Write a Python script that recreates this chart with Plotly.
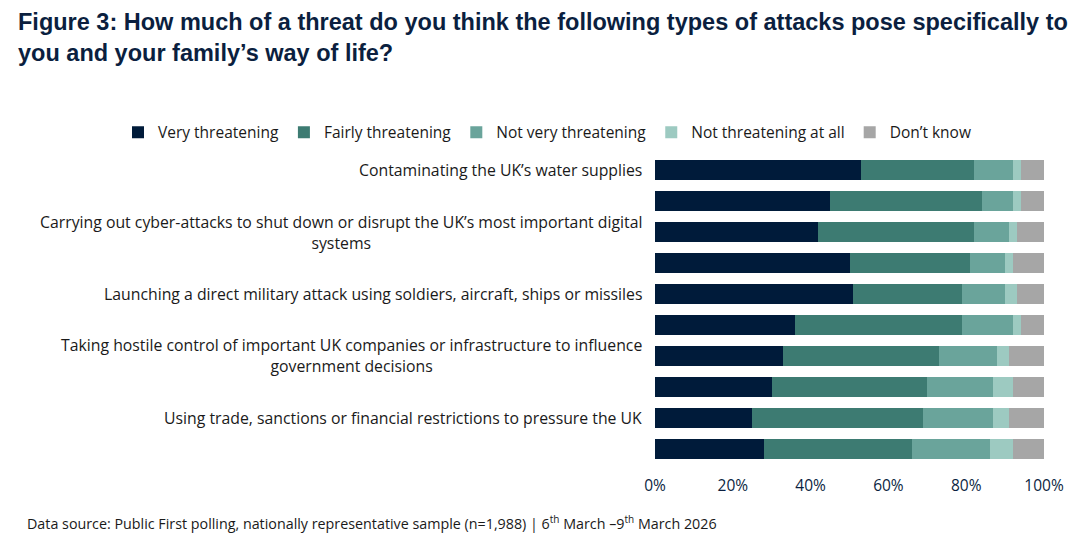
import plotly.graph_objects as go

labels = [
    "Contaminating the UK\u2019s water supplies",
    "",
    "Carrying out cyber-attacks to shut down or disrupt the UK\u2019s most important digital<br>systems",
    "",
    "Launching a direct military attack using soldiers, aircraft, ships or missiles",
    "",
    "Taking hostile control of important UK companies or infrastructure to influence<br>government decisions",
    "",
    "Using trade, sanctions or financial restrictions to pressure the UK",
    "",
]
positions = list(range(len(labels)))

series_names = ["Very threatening", "Fairly threatening", "Not very threatening",
                "Not threatening at all", "Don\u2019t know"]
very = [53, 45, 42, 50, 51, 36, 33, 30, 25, 28]
fairly = [29, 39, 40, 31, 28, 43, 40, 40, 44, 38]
not_very = [10, 8, 9, 9, 11, 13, 15, 17, 18, 20]
not_at_all = [2, 2, 2, 2, 3, 2, 3, 5, 4, 6]
dont_know = [6, 6, 7, 8, 7, 6, 9, 8, 9, 8]
series_values = [very, fairly, not_very, not_at_all, dont_know]
colors = ["#001b3a", "#3d7b72", "#6aa49b", "#9dcac1", "#a6a6a6"]

x_tickvals = [0, 20, 40, 60, 80, 100]
x_ticktext = ["0%", "20%", "40%", "60%", "80%", "100%"]

W, H = 1080, 556
OFF = 8  # page offset of the figure inside the browser window
# plot area in window pixels
left_px, right_px, top_px, bottom_px = 655, 1044, 154.5, 464.5
ml = left_px - OFF
mr = W - (right_px - OFF)
mt = top_px - OFF
mb = H - (bottom_px - OFF)
pw, ph = W - ml - mr, H - mt - mb

def px_to_paper_x(px):
    return (px - OFF - ml) / pw

def px_to_paper_y(py):
    return (H - mb - (py - OFF)) / ph

fig = go.Figure()
for name, vals, col in zip(series_names, series_values, colors):
    fig.add_trace(go.Bar(
        y=positions, x=vals, name=name, orientation="h",
        marker=dict(color=col, line=dict(width=0)),
        hovertemplate="%{x}%<extra>" + name + "</extra>",
    ))

for pos, lab in zip(positions, labels):
    if lab:
        fig.add_annotation(
            x=0, xref="paper", xanchor="right", xshift=-11,
            y=pos, yref="y", yanchor="middle",
            text=lab, showarrow=False, align="center",
            font=dict(family="Open Sans", size=15.8, color="#1a1a1a"),
        )

fig.add_annotation(
    x=px_to_paper_x(25), xref="paper", xanchor="left",
    y=px_to_paper_y(523), yref="paper", yanchor="middle",
    text="Data source: Public First polling, nationally representative sample (n=1,988) | 6<sup>th</sup> March \u20139<sup>th</sup> March 2026",
    showarrow=False, align="left",
    font=dict(family="Open Sans", size=14.3, color="#1a1a1a"),
)

fig.update_layout(
    width=W, height=H,
    margin=dict(l=ml, r=mr, t=mt, b=mb, pad=0, autoexpand=False),
    barmode="stack", bargap=0.355,
    plot_bgcolor="white", paper_bgcolor="white",
    title=dict(
        text="Figure 3: How much of a threat do you think the following types of attacks pose specifically to<br>you and your family\u2019s way of life?",
        x=10 / W, xref="container", xanchor="left",
        y=1 - 22 / H, yref="container", yanchor="middle",
        font=dict(family="Liberation Sans", size=23.5, color="#0b1f3f", weight="bold"),
    ),
    legend=dict(
        orientation="h", xref="paper", yref="paper",
        x=px_to_paper_x(118), xanchor="left",
        y=px_to_paper_y(132), yanchor="middle",
        font=dict(family="Open Sans", size=15.5, color="#1a1a1a"),
        itemwidth=30, traceorder="normal", tracegroupgap=0,
    ),
    xaxis=dict(
        range=[0, 100], tickvals=x_tickvals, ticktext=x_ticktext,
        showgrid=False, zeroline=False, showline=False, ticks="",
        tickfont=dict(family="Open Sans", size=15.5, color="#0b1f3f"),
        ticklabelstandoff=10, fixedrange=True,
    ),
    yaxis=dict(
        range=[len(labels) - 0.5, -0.5], showticklabels=False,
        showgrid=False, zeroline=False, showline=False, ticks="",
        fixedrange=True,
    ),
)

fig.write_html("out.html")
